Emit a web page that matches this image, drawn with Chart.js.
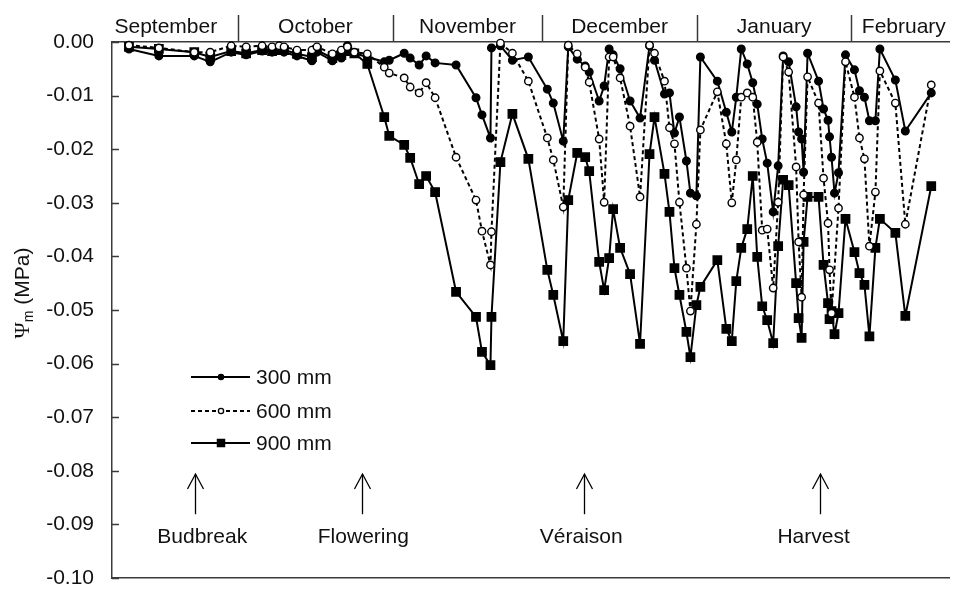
<!DOCTYPE html>
<html>
<head>
<meta charset="utf-8">
<script src="https://cdn.jsdelivr.net/npm/chart.js@4.4.1/dist/chart.umd.min.js"></script>
<style>
  html, body { margin: 0; padding: 0; background: #fff; }
  canvas { display: block; }
</style>
</head>
<body>
<canvas id="psiChart" width="957" height="593"></canvas>
<script>
// x = days since 1 September
const months = ['September', 'October', 'November', 'December', 'January', 'February'];
const monthStart = [30, 61, 91, 122, 153];
const monthMid = [15.5, 45.5, 76, 106.5, 137.5, 163.5];

const phases = ['Budbreak', 'Flowering', 'Véraison', 'Harvest'];
const phaseDay = [21.4, 54.9, 99.4, 146.6];
const phaseLabelDay = [22.8, 55.1, 98.8, 145.4];

const days = [
  8.1, 14.1, 21.2, 24.4, 28.6, 31.6, 34.8, 36.8, 38.2, 39.2,
  41.8, 44.8, 45.8, 48.9, 50.7, 51.9, 53.3, 55.9, 59.3, 60.3,
  63.3, 64.5, 66.3, 67.7, 69.5, 73.7, 77.7, 78.9, 80.6, 80.8,
  82.6, 85.0, 88.2, 92.0, 93.2, 95.2, 96.2, 98.0, 99.6, 100.4,
  102.4, 103.4, 104.4, 105.2, 106.6, 108.6, 110.6, 112.5, 113.5, 115.5,
  116.5, 117.5, 118.5, 119.9, 120.7, 121.9, 122.7, 126.1, 127.9, 129.0,
  129.9, 130.9, 132.1, 133.2, 134.1, 135.1, 136.1, 137.3, 138.3, 139.3,
  140.4, 141.9, 142.4, 143.0, 143.4, 144.2, 146.4, 147.4, 148.3, 148.6,
  149.0, 149.6, 150.4, 151.8, 153.6, 154.6, 155.6, 156.6, 157.8, 158.7,
  161.8, 163.8, 169.0
];

const psi300 = [
  -0.0013, -0.0026, -0.0026, -0.0037, -0.0019, -0.0024, -0.0017, -0.0019, -0.0015, -0.0019,
  -0.0026, -0.0035, -0.0019, -0.0035, -0.0030, -0.0007, -0.0021, -0.0028, -0.0037, -0.0034,
  -0.0021, -0.0030, -0.0043, -0.0026, -0.0039, -0.0043, -0.0104, -0.0136, -0.0179, -0.0011,
  -0.0007, -0.0034, -0.0028, -0.0088, -0.0114, -0.0185, -0.0009, -0.0032, -0.0045, -0.0056,
  -0.0110, -0.0082, -0.0013, -0.0024, -0.0050, -0.0110, -0.0142, -0.0007, -0.0034, -0.0097,
  -0.0095, -0.0170, -0.0140, -0.0222, -0.0282, -0.0287, -0.0028, -0.0073, -0.0131, -0.0168,
  -0.0103, -0.0013, -0.0041, -0.0076, -0.0116, -0.0181, -0.0226, -0.0317, -0.0231, -0.0026,
  -0.0037, -0.0121, -0.0168, -0.0181, -0.0243, -0.0021, -0.0073, -0.0125, -0.0146, -0.0177,
  -0.0215, -0.0282, -0.0244, -0.0024, -0.0052, -0.0091, -0.0103, -0.0147, -0.0147, -0.0013,
  -0.0071, -0.0166, -0.0095
];

const psi600 = [
  -0.0006, -0.0011, -0.0019, -0.0019, -0.0007, -0.0009, -0.0007, -0.0009, -0.0007, -0.0009,
  -0.0015, -0.0015, -0.0009, -0.0022, -0.0015, -0.0009, -0.0019, -0.0022, -0.0047, -0.0058,
  -0.0067, -0.0084, -0.0095, -0.0076, -0.0104, -0.0215, -0.0295, -0.0353, -0.0416, -0.0354,
  -0.0002, -0.0021, -0.0073, -0.0179, -0.0220, -0.0308, -0.0006, -0.0022, -0.0047, -0.0075,
  -0.0181, -0.0299, -0.0028, -0.0028, -0.0067, -0.0157, -0.0289, -0.0006, -0.0021, -0.0073,
  -0.0160, -0.0190, -0.0299, -0.0422, -0.0502, -0.0340, -0.0164, -0.0093, -0.0190, -0.0300,
  -0.0220, -0.0103, -0.0095, -0.0103, -0.0187, -0.0351, -0.0349, -0.0459, -0.0299, -0.0028,
  -0.0056, -0.0233, -0.0373, -0.0476, -0.0285, -0.0065, -0.0114, -0.0254, -0.0338, -0.0425,
  -0.0506, null, -0.0310, -0.0037, -0.0103, -0.0179, -0.0218, -0.0381, -0.0280, -0.0054,
  -0.0114, -0.0340, -0.0080
];

const psi900 = [
  -0.0009, -0.0013, -0.0019, -0.0028, -0.0017, -0.0021, -0.0015, -0.0017, -0.0015, -0.0015,
  -0.0022, -0.0028, -0.0015, -0.0030, -0.0024, -0.0017, -0.0021, -0.0041, -0.0140, -0.0175,
  -0.0192, -0.0216, -0.0265, -0.0250, -0.0280, -0.0466, -0.0513, -0.0578, -0.0603, -0.0513,
  -0.0224, -0.0134, -0.0218, -0.0425, -0.0472, -0.0558, -0.0295, -0.0207, -0.0215, -0.0241,
  -0.0410, -0.0463, -0.0403, -0.0312, -0.0384, -0.0433, -0.0563, -0.0209, -0.0140, -0.0246,
  -0.0317, -0.0422, -0.0472, -0.0541, -0.0588, -0.0491, -0.0457, -0.0407, -0.0535, -0.0558,
  -0.0446, -0.0384, -0.0349, -0.0250, -0.0401, -0.0493, -0.0519, -0.0562, -0.0381, -0.0257,
  -0.0267, -0.0450, -0.0515, -0.0552, -0.0373, -0.0289, -0.0289, -0.0416, -0.0487, -0.0517,
  -0.0502, -0.0545, -0.0506, -0.0330, -0.0392, -0.0431, -0.0453, -0.0549, -0.0384, -0.0330,
  -0.0356, -0.0511, -0.0269
];

const FONT = "'Liberation Sans', Arial, sans-serif";
const AXIS = '#3a3a3a';
const X_MIN = 4.7, X_MAX = 172.7;

const points = values => days.map((d, i) => ({ x: d, y: values[i] }));

const series = [
  { label: '300 mm', data: points(psi300), pointStyle: 'circle', pointRadius: 3.8,
    pointBackgroundColor: '#000', borderDash: [], order: 1 },
  { label: '600 mm', data: points(psi600), pointStyle: 'circle', pointRadius: 3.7,
    pointBackgroundColor: '#fff', borderDash: [4, 3], order: 0 },
  { label: '900 mm', data: points(psi900), pointStyle: 'rect', pointRadius: 5.9,
    pointBackgroundColor: '#000', borderDash: [], order: 2 }
];

function strokeLine(ctx, x1, y1, x2, y2) {
  ctx.beginPath();
  ctx.moveTo(x1, y1);
  ctx.lineTo(x2, y2);
  ctx.stroke();
}

function drawMarker(ctx, style, fill, x, y, r) {
  ctx.save();
  ctx.setLineDash([]);
  ctx.fillStyle = fill;
  ctx.strokeStyle = '#000';
  ctx.lineWidth = 1.3;
  ctx.beginPath();
  if (style === 'rect') {
    ctx.rect(x - r, y - r, 2 * r, 2 * r);
  } else {
    ctx.arc(x, y, r, 0, Math.PI * 2);
  }
  ctx.fill();
  ctx.stroke();
  ctx.restore();
}

const overlay = {
  id: 'overlay',
  afterDraw(chart) {
    const { ctx, chartArea: a } = chart;
    const x = chart.scales.x, y = chart.scales.y;
    ctx.save();

    // inner tick marks on the y axis
    ctx.strokeStyle = AXIS;
    ctx.lineWidth = 1.5;
    y.ticks.forEach(t => {
      const py = Math.round(y.getPixelForValue(t.value)) + 0.5;
      strokeLine(ctx, a.left, py, a.left + 7, py);
    });

    // month separators and names above the top axis
    monthStart.forEach(d => {
      const px = Math.round(x.getPixelForValue(d)) + 0.5;
      strokeLine(ctx, px, a.top, px, 15);
    });
    ctx.fillStyle = '#111';
    ctx.font = '21px ' + FONT;
    ctx.textAlign = 'center';
    ctx.textBaseline = 'middle';
    months.forEach((m, i) => ctx.fillText(m, x.getPixelForValue(monthMid[i]), 27));

    // y axis title: Ψm (MPa)
    ctx.save();
    ctx.translate(23, 293);
    ctx.rotate(-Math.PI / 2);
    ctx.textAlign = 'left';
    const psiFont = '22px "Liberation Serif", "Times New Roman", serif';
    const subFont = '14px ' + FONT;
    const restFont = '21px ' + FONT;
    ctx.font = psiFont; const w1 = ctx.measureText('Ψ').width;
    ctx.font = subFont; const w2 = ctx.measureText('m').width;
    ctx.font = restFont; const w3 = ctx.measureText(' (MPa)').width;
    let cx = -(w1 + w2 + w3) / 2;
    ctx.font = psiFont; ctx.fillText('Ψ', cx, 0); cx += w1;
    ctx.font = subFont; ctx.fillText('m', cx, 6); cx += w2;
    ctx.font = restFont; ctx.fillText(' (MPa)', cx, 0);
    ctx.restore();

    // legend
    const rows = [377, 411, 443];
    chart.data.datasets.forEach((ds, i) => {
      const ry = rows[i];
      ctx.strokeStyle = '#000';
      ctx.lineWidth = 1.9;
      ctx.setLineDash(ds.borderDash);
      strokeLine(ctx, 191, ry, 250, ry);
      ctx.setLineDash([]);
      if (ds.pointStyle === 'rect') drawMarker(ctx, 'rect', '#000', 221, ry, 3.6);
      else drawMarker(ctx, 'circle', ds.pointBackgroundColor, 221, ry, 2.6);
      ctx.fillStyle = '#111';
      ctx.font = '21px ' + FONT;
      ctx.textAlign = 'left';
      ctx.fillText(ds.label, 256, ry + 1);
    });

    // phenology arrows
    ctx.strokeStyle = '#000';
    ctx.lineWidth = 1.3;
    const tip = y.getPixelForValue(-0.0806);
    const base = y.getPixelForValue(-0.0881);
    const ty = y.getPixelForValue(-0.0923);
    phases.forEach((p, i) => {
      const px = Math.round(x.getPixelForValue(phaseDay[i])) + 0.5;
      strokeLine(ctx, px, tip, px, base);
      ctx.beginPath();
      ctx.moveTo(px - 8, tip + 15);
      ctx.lineTo(px, tip);
      ctx.lineTo(px + 8, tip + 15);
      ctx.stroke();
      ctx.fillStyle = '#111';
      ctx.font = '21px ' + FONT;
      ctx.textAlign = 'center';
      ctx.fillText(p, x.getPixelForValue(phaseLabelDay[i]), ty);
    });

    ctx.restore();
  }
};

const hiddenX = (position, height) => ({
  type: 'linear',
  position: position,
  min: X_MIN,
  max: X_MAX,
  ticks: { display: false },
  grid: { display: false, drawTicks: false },
  border: { display: true, color: AXIS, width: 1.5 },
  afterFit(scale) { scale.height = height; }
});

new Chart(document.getElementById('psiChart'), {
  type: 'line',
  data: {
    datasets: series.map(s => ({
      label: s.label,
      data: s.data,
      order: s.order,
      xAxisID: 'x',
      yAxisID: 'y',
      borderColor: '#000',
      borderWidth: 2,
      borderDash: s.borderDash,
      tension: 0,
      spanGaps: true,
      clip: false,
      pointStyle: s.pointStyle,
      pointRadius: s.pointRadius,
      pointBackgroundColor: s.pointBackgroundColor,
      pointBorderColor: '#000',
      pointBorderWidth: 1.4
    }))
  },
  options: {
    responsive: false,
    animation: false,
    devicePixelRatio: 1,
    layout: { padding: { left: 0, right: 2, top: 0, bottom: 0 } },
    plugins: { legend: { display: false }, tooltip: { enabled: false } },
    scales: {
      x: hiddenX('top', 42),
      xb: hiddenX('bottom', 15),
      y: {
        min: -0.1,
        max: 0,
        ticks: {
          stepSize: 0.01,
          padding: 18,
          color: '#111',
          font: { family: FONT, size: 21 },
          callback: v => Math.abs(v) < 1e-9 ? '0.00' : v.toFixed(2)
        },
        grid: { display: false, drawTicks: false },
        border: { display: true, color: AXIS, width: 1.5 },
        afterFit(scale) {
          scale.width = 112;
          scale.paddingTop = 0;
          scale.paddingBottom = 0;
        }
      }
    }
  },
  plugins: [overlay]
});
</script>
</body>
</html>
